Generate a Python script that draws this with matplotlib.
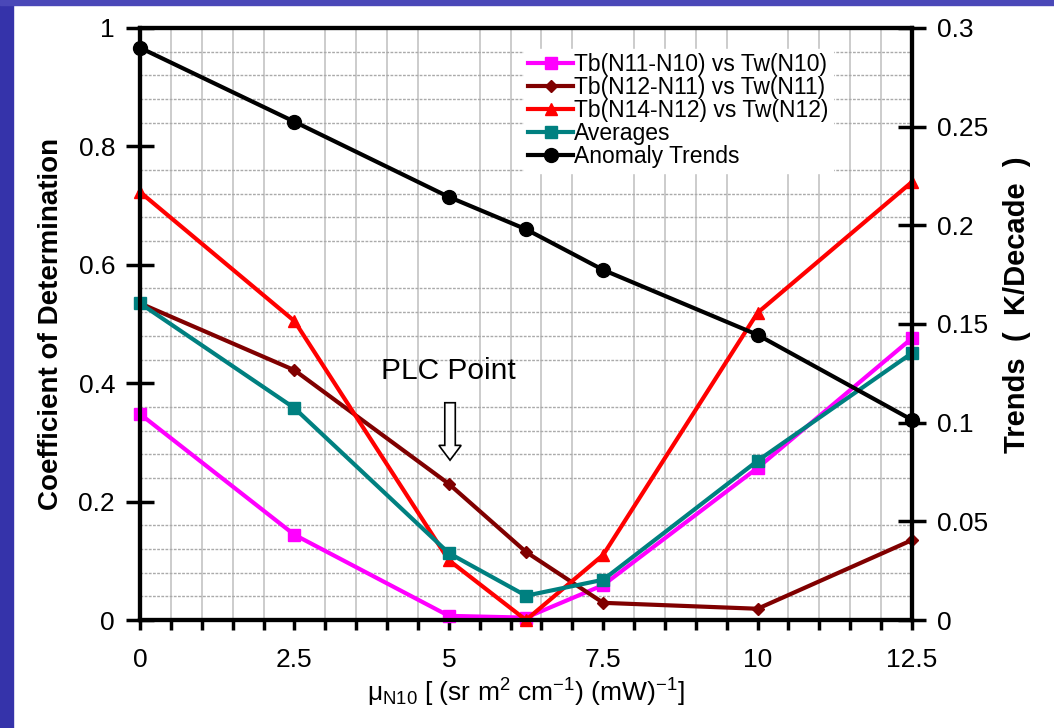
import matplotlib
matplotlib.use("Agg")
import matplotlib.pyplot as plt
from matplotlib.patches import Rectangle, FancyArrow
from matplotlib.ticker import MultipleLocator, FuncFormatter

plt.rcParams['font.family'] = ['Liberation Sans', 'DejaVu Sans']
plt.rcParams['mathtext.default'] = 'regular'

# --- donnees ---
mu = [0, 2.5, 5, 6.25, 7.5, 10, 12.5]
r2_n11_n10 = [0.348, 0.144, 0.007, 0.004, 0.059, 0.257, 0.476]
r2_n12_n11 = [0.535, 0.422, 0.230, 0.115, 0.029, 0.019, 0.135]
r2_n14_n12 = [0.723, 0.505, 0.101, 0.000, 0.110, 0.519, 0.740]
r2_moyennes = [0.535, 0.358, 0.113, 0.041, 0.068, 0.269, 0.451]
tendances = [0.290, 0.2525, 0.2144, 0.198, 0.1774, 0.1445, 0.1014]

noms = ['Tb(N11-N10) vs Tw(N10)', 'Tb(N12-N11) vs Tw(N11)',
        'Tb(N14-N12) vs Tw(N12)', 'Averages', 'Anomaly Trends']

fig = plt.figure(figsize=(10.54, 7.28), dpi=100)
fig.patch.set_facecolor('white')
# bordure bleue du transparent
fig.patches.append(Rectangle((0, 0), 13 / 1054, 1, transform=fig.transFigure,
                             color='#3533aa', zorder=-10))
fig.patches.append(Rectangle((0, 1 - 5 / 728), 1, 5 / 728, transform=fig.transFigure,
                             color='#4a48b8', zorder=-10))

ax = fig.add_axes([140 / 1054, 1 - 620 / 728, 772 / 1054, 592 / 728])
ax2 = ax.twinx()

ax.set_xlim(0, 12.5)
ax.set_ylim(0, 1)
ax2.set_ylim(0, 0.3)

# grille
ax.xaxis.set_minor_locator(MultipleLocator(0.5))
ax.yaxis.set_minor_locator(MultipleLocator(0.04))
ax.grid(which='minor', axis='x', color='#c4c4c4', lw=1.2, ls='-')
ax.grid(which='minor', axis='y', color='#aaaaaa', lw=1.0, ls=(0, (2, 1)))
ax.set_axisbelow(True)

l1, = ax.plot(mu, r2_n11_n10, color='#ff00ff', lw=3, marker='s', ms=8, clip_on=False, zorder=3)
l2, = ax.plot(mu, r2_n12_n11, color='#800000', lw=3, marker='D', ms=6, clip_on=False, zorder=3)
l3, = ax.plot(mu, r2_n14_n12, color='#ff0000', lw=3, marker='^', ms=8, clip_on=False, zorder=3)
l4, = ax.plot(mu, r2_moyennes, color='#008080', lw=3, marker='s', ms=8.5, clip_on=False, zorder=3)
l5, = ax2.plot(mu, tendances, color='black', lw=3, marker='o', ms=10, clip_on=False, zorder=3)

# axes
for a in (ax, ax2):
    for s in a.spines.values():
        s.set_linewidth(3)
        s.set_color('black')

fmt = FuncFormatter(lambda v, p: f'{v:g}')
ax.xaxis.set_major_locator(MultipleLocator(2.5))
ax.xaxis.set_major_formatter(fmt)
ax.tick_params(axis='x', which='major', direction='out', length=7.5, width=2.5, pad=13, labelsize=19)
ax.tick_params(axis='x', which='minor', direction='out', length=7.5, width=2.5)
ax.yaxis.set_major_locator(MultipleLocator(0.2))
ax.yaxis.set_major_formatter(fmt)
ax.tick_params(axis='y', which='major', direction='inout', length=20, width=2.5, pad=8, labelsize=19)
ax.tick_params(axis='y', which='minor', length=0)
ax2.yaxis.set_major_locator(MultipleLocator(0.05))
ax2.yaxis.set_major_formatter(fmt)
ax2.tick_params(axis='y', which='major', direction='inout', length=20, width=2.5, pad=8, labelsize=19)

ax.set_ylabel('Coefficient of Determination', fontsize=20, fontweight='bold', labelpad=10)
fig.text(1017 / 1054, 1 - 305 / 728, 'Trends  (  K/Decade  )', fontsize=21,
         fontweight='bold', rotation=90, ha='center', va='center')
ax.set_xlabel('μ$_{N10}$ [ (sr m$^2$ cm$^{-1}$) (mW)$^{-1}$]', fontsize=19, labelpad=3)

# annotation PLC
ax.text(5.0, 0.42, 'PLC Point', fontsize=21.5, ha='center', va='center')
ax.add_patch(FancyArrow(5.02, 0.367, 0, -0.097, width=0.17, head_width=0.36,
                        head_length=0.025, length_includes_head=True,
                        facecolor='white', edgecolor='black', lw=1.2, zorder=4))

leg = ax2.legend([l1, l2, l3, l4, l5], noms, loc='upper left',
                 bbox_to_anchor=(0.497, 0.965), fontsize=16.5, frameon=True,
                 fancybox=False, edgecolor='white', framealpha=1,
                 handlelength=1.95, labelspacing=0.0, borderpad=0.2,
                 handletextpad=0.05, borderaxespad=0)

fig.savefig('out.png', dpi=100)
